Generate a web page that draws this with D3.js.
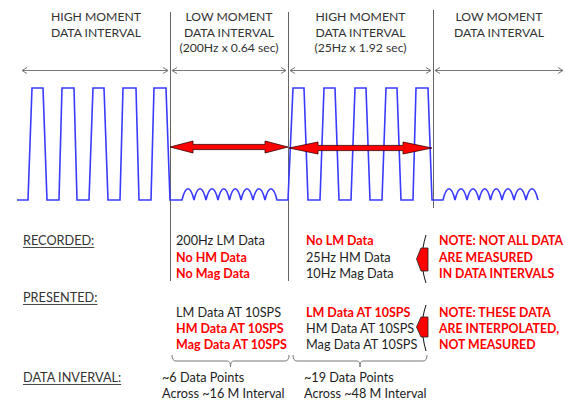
<!DOCTYPE html>
<html><head><meta charset="utf-8">
<script src="https://cdn.jsdelivr.net/npm/d3@7"></script>
<style>
html,body{margin:0;padding:0;background:#fff;}
svg{display:block;font-family:Lato,"Open Sans",sans-serif;}
</style></head>
<body>
<svg id="chart" width="565" height="402"></svg>
<script>
// ---------------- DATA ----------------
const intervalTitles = ["HIGH MOMENT", "LOW MOMENT", "HIGH MOMENT", "LOW MOMENT"];
const intervalSubtitles = ["DATA INTERVAL", "DATA INTERVAL", "DATA INTERVAL", "DATA INTERVAL"];
const intervalRates = ["", "(200Hz x 0.64 sec)", "(25Hz x 1.92 sec)", ""];
// interval bounds on the schematic time axis
const intervalStart = [22, 170, 288, 433];
const intervalEnd = [170, 288, 433, 565];

// high-moment pulses: [rise start, rise end, fall start, fall end] (time units)
const pulsesA = [[28,32,43,47],[59,62,74,77],[89,93,104,108],[120,123,136,139],[151,154,166,170]];
const pulsesB = [[288,293,304,308],[320,324,335,339],[351,355,366,370],[382,386,397,401],[413,416,428,432]];
// low-moment small oscillations: hump [start, end]
const humpsA = [[182,194],[194,206],[206,218],[218,229.5],[229.5,241],[241,253],[253,265],[265,277]];
const humpsB = [[443,455],[455,467],[467,479],[479,490.5],[490.5,502],[502,514],[514,526],[526,538]];
const waveStart = 17, waveHigh = 1, waveLow = 0, humpLevel = 0.1;

// measured spans (red double arrows): [from, to]
const spanArrows = [[170, 288], [289, 432]];

// text rows
const rowLabels = ["RECORDED:", "PRESENTED:", "DATA INVERVAL:"];
const recordedLM = ["200Hz LM Data", "No HM Data", "No Mag Data"];
const recordedLMRed = [false, true, true];
const recordedHM = ["No LM Data", "25Hz HM Data", "10Hz Mag Data"];
const recordedHMRed = [true, false, false];
const presentedLM = ["LM Data AT 10SPS", "HM Data AT 10SPS", "Mag Data AT 10SPS"];
const presentedLMRed = [false, true, true];
const presentedHM = ["LM Data AT 10SPS", "HM Data AT 10SPS", "Mag Data AT 10SPS"];
const presentedHMRed = [true, false, false];
const note1 = ["NOTE: NOT ALL DATA", "ARE MEASURED", "IN DATA INTERVALS"];
const note2 = ["NOTE: THESE DATA", "ARE INTERPOLATED,", "NOT MEASURED"];
const intervalLM = ["~6 Data Points", "Across ~16 M Interval"];
const intervalHM = ["~19 Data Points", "Across ~48 M Interval"];

// ---------------- DRAW ----------------
const svg = d3.select("#chart");
const W = 565, H = 402;
svg.append("rect").attr("width", W).attr("height", H).attr("fill", "#fff");

const x = d3.scaleLinear().domain([0, 565]).range([0, 565]);
const y = d3.scaleLinear().domain([0, 1]).range([200, 88]);

const GRAY = "#777", TXT = "#1e1e1e", RED = "#ff0000", BLUE = "#3b3bff";
const FS = 12.7;

// vertical divider lines
const dividers = [
  {t: intervalStart[1], y1: 12, y2: 281},
  {t: intervalStart[2], y1: 12, y2: 281},
  {t: intervalStart[3], y1: 10, y2: 208}
];
svg.selectAll("line.div").data(dividers).join("line")
  .attr("x1", d => x(d.t) + 0.5).attr("x2", d => x(d.t) + 0.5)
  .attr("y1", d => d.y1).attr("y2", d => d.y2)
  .attr("stroke", "#666").attr("stroke-width", 1);

// headers
const headerG = svg.append("g").attr("font-size", 12.2).attr("fill", "#333").attr("text-anchor", "middle");
intervalTitles.forEach((t, i) => {
  const cx = (x(intervalStart[i]) + x(intervalEnd[i])) / 2;
  headerG.append("text").attr("x", cx).attr("y", 20.5).text(t);
  headerG.append("text").attr("x", cx).attr("y", 36.5).text(intervalSubtitles[i]);
  if (intervalRates[i]) headerG.append("text").attr("x", cx).attr("y", 52).text(intervalRates[i]);
});

// gray interval arrows
const arrowY = 70.5;
intervalStart.forEach((s, i) => {
  const a = x(s) + (i === 0 ? 0 : 2), b = x(intervalEnd[i]) - 2;
  const g = svg.append("g").attr("stroke", GRAY).attr("fill", "none").attr("stroke-width", 1);
  g.append("line").attr("x1", a).attr("x2", b).attr("y1", arrowY).attr("y2", arrowY);
  g.append("path").attr("d", `M${a+5},${arrowY-3}L${a},${arrowY}L${a+5},${arrowY+3}`);
  g.append("path").attr("d", `M${b-5},${arrowY-3}L${b},${arrowY}L${b-5},${arrowY+3}`);
});

// waveform
const p = d3.path();
p.moveTo(x(waveStart), y(waveLow));
function addPulses(ps) {
  ps.forEach(q => {
    p.lineTo(x(q[0]), y(waveLow));
    p.lineTo(x(q[1]), y(waveHigh));
    p.lineTo(x(q[2]), y(waveHigh));
    p.lineTo(x(q[3]), y(waveLow));
  });
}
function addHumps(hs) {
  hs.forEach(h => {
    p.lineTo(x(h[0]), y(waveLow));
    const ctrl = y(humpLevel / 0.75);
    const dx = (x(h[1]) - x(h[0])) * 0.3;
    p.bezierCurveTo(x(h[0]) + dx, ctrl, x(h[1]) - dx, ctrl, x(h[1]), y(waveLow));
  });
}
addPulses(pulsesA);
addHumps(humpsA);
addPulses(pulsesB);
addHumps(humpsB);
svg.append("path").attr("d", p.toString()).attr("fill", "none")
  .attr("stroke", BLUE).attr("stroke-width", 1.6).attr("stroke-linejoin", "miter");

// red double arrows
const arrowSpecs = [{yy: 147, hl: 23, hh: 6, sh: 2.6}, {yy: 148, hl: 29, hh: 6, sh: 2.6}];
spanArrows.forEach((s, i) => {
  const a = x(s[0]), b = x(s[1]);
  const {yy, hl, hh, sh} = arrowSpecs[i];
  const pts = [[a, yy], [a+hl, yy-hh], [a+hl, yy-sh], [b-hl, yy-sh], [b-hl, yy-hh], [b, yy],
               [b-hl, yy+hh], [b-hl, yy+sh], [a+hl, yy+sh], [a+hl, yy+hh]];
  svg.append("polygon").attr("points", pts.map(q => q.join(",")).join(" "))
    .attr("fill", RED).attr("stroke", "#3a0000").attr("stroke-width", 0.8).attr("stroke-linejoin", "miter");
});

// row labels with underline
const labelYs = [245, 302, 382];
rowLabels.forEach((l, i) => {
  const t = svg.append("text").attr("x", 23).attr("y", labelYs[i]).attr("font-size", FS).attr("fill", "#333").text(l);
  const w = t.node().getComputedTextLength();
  svg.append("line").attr("x1", 23).attr("x2", 23 + w).attr("y1", labelYs[i] + 2.5).attr("y2", labelYs[i] + 2.5)
    .attr("stroke", "#333").attr("stroke-width", 0.9);
});

function block(lines, reds, x0, y0, dy, fs) {
  lines.forEach((l, i) => {
    svg.append("text").attr("x", x0).attr("y", y0 + i * dy).attr("font-size", reds[i] ? (fs || FS) - 0.2 : (fs || FS))
      .attr("fill", reds[i] ? RED : TXT).attr("font-weight", reds[i] ? 700 : 400).text(l);
  });
}
block(recordedLM, recordedLMRed, 176, 245, 16.5);
block(recordedHM, recordedHMRed, 306, 245, 16.5);
block(note1, [true, true, true], 439, 245, 16.5, 12.5);
block(presentedLM, presentedLMRed, 176, 317, 16);
block(presentedHM, presentedHMRed, 306, 317, 16);
block(note2, [true, true, true], 439, 317, 16, 12.5);
block(intervalLM, [false, false], 162, 382, 15.5);
block(intervalHM, [false, false], 304, 382, 15.5);

// callouts (left-pointing)
function callout(top, pTop, tip, pBot, bot) {
  const g = svg.append("g");
  g.append("path").attr("d", `M426,${top} Q424,${(top+pTop)/2} 423,${pTop} M423,${pBot} Q424,${(pBot+bot)/2} 426,${bot}`)
    .attr("fill", "none").attr("stroke", "#111").attr("stroke-width", 1);
  g.append("polygon").attr("points", `421,${pTop} 428,${pTop} 428,${pBot} 421,${pBot} 416.5,${tip}`)
    .attr("fill", RED).attr("stroke", "#222").attr("stroke-width", 0.8);
}
callout(235, 248, 259, 271, 283);
callout(305, 317, 327, 337, 351);

// braces
function brace(a, b, yTop, yLine, yTip) {
  const m = (a + b) / 2;
  svg.append("path").attr("d",
    `M${a},${yTop} Q${a},${yLine} ${a+4},${yLine} L${m-3},${yLine} Q${m},${yLine} ${m},${yTip} Q${m},${yLine} ${m+3},${yLine} L${b-4},${yLine} Q${b},${yLine} ${b},${yTop}`)
    .attr("fill", "none").attr("stroke", GRAY).attr("stroke-width", 1);
}
brace(172, 289, 355, 361, 367);
brace(293, 427, 355, 361, 367);
</script>
</body></html>
